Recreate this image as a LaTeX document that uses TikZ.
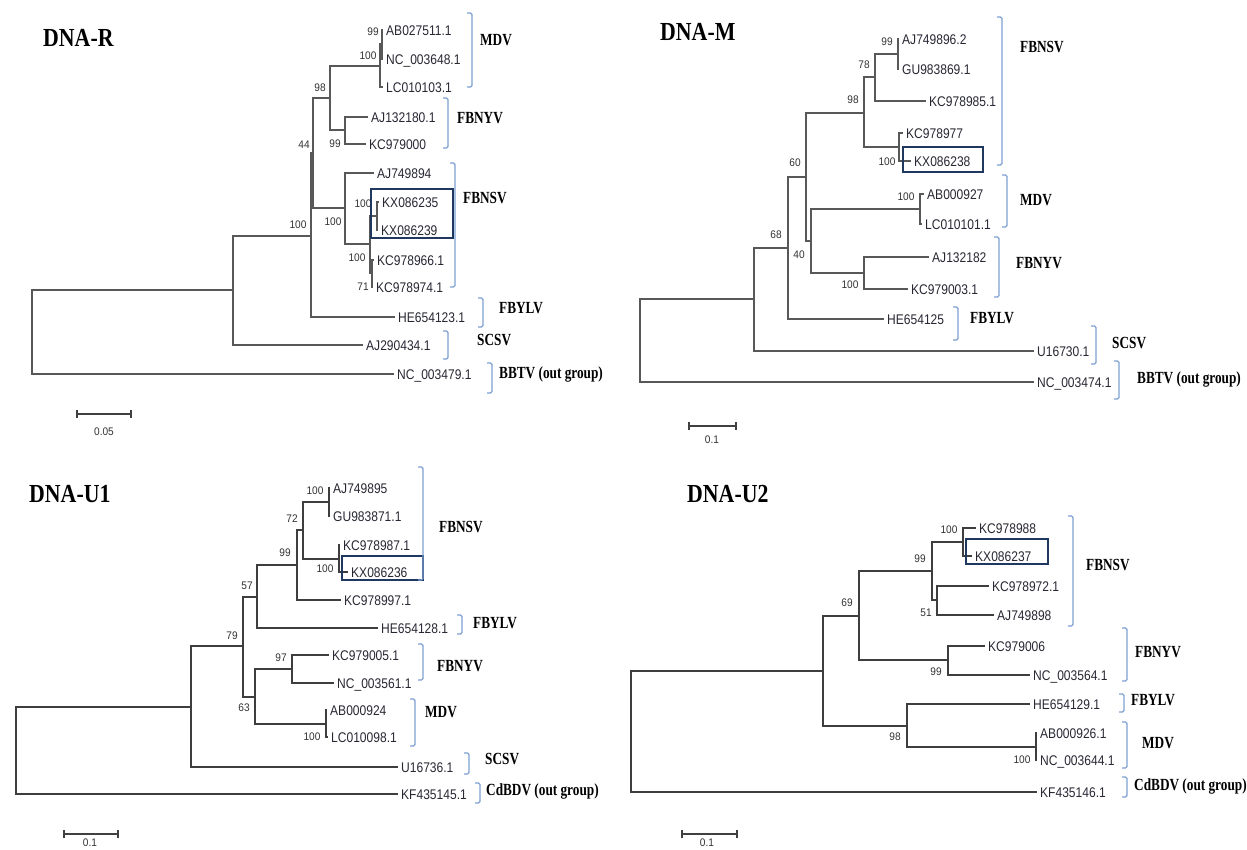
\documentclass[tikz,border=0pt]{standalone}
\usepackage{fontspec}
\newfontfamily\leaffont[FakeStretch=0.86]{Liberation Sans}
\newfontfamily\bootfont[FakeStretch=0.92]{Liberation Sans}
\newfontfamily\grpfont[FakeStretch=0.78]{Liberation Serif}
\newfontfamily\ttlfont[FakeStretch=0.84]{Liberation Serif}
\definecolor{treec}{RGB}{88,88,88}
\definecolor{treed}{RGB}{62,62,62}
\definecolor{leafc}{RGB}{40,40,52}
\definecolor{bootc}{RGB}{50,50,50}
\definecolor{brkc}{RGB}{125,160,210}
\definecolor{boxc}{RGB}{31,56,96}
\newcommand{\tleaf}[4]{\node[leaf] (#1) at (#2,#3) {#4};}
\newcommand{\tnode}[3]{\coordinate (#1) at (#2,#3);}
\newcommand{\tboot}[4]{\node[boot] (#1) at (#2,#3) {#4};}
\newcommand{\tbrk}[3]{\draw[brk] ({#1-5},#2) -- (#1,#2) -- (#1,#3) -- ({#1-5},#3);}
\newcommand{\tgrp}[4]{\node[grp] (#1) at (#2,#3) {#4};}
\newcommand{\tsbar}[3]{\draw[sbar] (#1,#3) -- (#2,#3); \draw[sbar] (#1,{#3-4}) -- (#1,{#3+4}); \draw[sbar] (#2,{#3-4}) -- (#2,{#3+4});}
\tikzset{
  tree/.style={draw=treec, line width=1.5pt},
  treeu/.style={draw=treed, line width=1.2pt},
  leaf/.style={anchor=west, inner xsep=3pt, inner ysep=0pt, text height=10pt, text depth=0pt, text=leafc, font=\leaffont\fontsize{14}{16}\selectfont},
  boot/.style={inner sep=0pt, text=bootc, font=\bootfont\fontsize{11}{13}\selectfont},
  grp/.style={anchor=west, inner sep=0pt, text height=11pt, text depth=0pt, font=\grpfont\bfseries\fontsize{17}{19}\selectfont},
  ttl/.style={anchor=west, inner sep=0pt, text height=17pt, text depth=0pt, font=\ttlfont\bfseries\fontsize{26}{28}\selectfont},
  brk/.style={draw=brkc, line width=1.3pt, rounded corners=1.5pt},
  hbox/.style={draw=boxc, line width=2.2pt},
  sbar/.style={draw=black!75, line width=1.1pt},
  sbl/.style={inner sep=0pt, text=bootc, font=\bootfont\fontsize{11}{13}\selectfont}
}
\begin{document}
\begin{tikzpicture}[x=1pt,y=-1pt]
\useasboundingbox (0,0) rectangle (1247,849);
\fill[white] (0,0) rectangle (1247,849);

% ================= DNA-R =================
\node[ttl] (tR) at (43,38) {DNA-R};
\tleaf{rL1}{383}{30}{AB027511.1}
\tleaf{rL2}{383}{59}{NC\_003648.1}
\tleaf{rL3}{383}{87}{LC010103.1}
\tleaf{rL4}{368}{117}{AJ132180.1}
\tleaf{rL5}{366}{144}{KC979000}
\tleaf{rL6}{374}{173}{AJ749894}
\tleaf{rL7}{379}{202}{KX086235}
\tleaf{rL8}{378}{230}{KX086239}
\tleaf{rL9}{374}{260}{KC978966.1}
\tleaf{rL10}{373}{287}{KC978974.1}
\tleaf{rL11}{395}{317}{HE654123.1}
\tleaf{rL12}{363}{345}{AJ290434.1}
\tleaf{rL13}{394}{374}{NC\_003479.1}
\tnode{R0}{32}{332}
\tnode{RA}{233}{290}
\tnode{RB}{311}{236}
\tnode{RC}{313}{153}
\tnode{RD}{330}{98}
\tnode{RM1}{380}{66}
\tnode{RM2}{382}{44}
\tnode{RY}{345}{130}
\tnode{RE}{345}{208}
\tnode{RF}{370}{244}
\tnode{RG}{377}{216}
\tnode{RH}{372}{273}
\foreach \p/\c in {R0/RA, R0/rL13.west, RA/RB, RA/rL12.west, RB/RC, RB/rL11.west,
  RC/RD, RC/RE, RD/RM1, RD/RY, RM1/RM2, RM1/rL3.west, RM2/rL1.west, RM2/rL2.west,
  RY/rL4.west, RY/rL5.west, RE/rL6.west, RE/RF, RF/RG, RF/RH, RG/rL7.west, RG/rL8.west,
  RH/rL9.west, RH/rL10.west}
  {\draw[tree] (\p) |- (\c);}
\tboot{bR1}{298}{225}{100}
\tboot{bR2}{304}{145}{44}
\tboot{bR3}{320}{88}{98}
\tboot{bR4}{373}{32}{99}
\tboot{bR5}{368}{56}{100}
\tboot{bR6}{335}{144}{99}
\tboot{bR7}{333}{222}{100}
\tboot{bR8}{363}{204}{100}
\tboot{bR9}{357}{258}{100}
\tboot{bR10}{363}{287}{71}
\draw[hbox] (371,189) rectangle (453,238);
\tbrk{472}{13}{87}
\tbrk{448}{98}{148}
\tbrk{455}{163}{287}
\tbrk{483}{298}{327}
\tbrk{448}{331}{359}
\tbrk{492}{363}{393}
\tgrp{gR1}{480}{40}{MDV}
\tgrp{gR2}{457}{118}{FBNYV}
\tgrp{gR3}{463}{198}{FBNSV}
\tgrp{gR4}{499}{308}{FBYLV}
\tgrp{gR5}{477}{340}{SCSV}
\tgrp{gR6}{499}{373}{BBTV (out group)}
\tsbar{77}{131}{414}
\node[sbl] (sR) at (104,432) {0.05};

% ================= DNA-M =================
\node[ttl] (tM) at (660,32) {DNA-M};
\tleaf{mL1}{899}{39}{AJ749896.2}
\tleaf{mL2}{899}{69}{GU983869.1}
\tleaf{mL3}{926}{101}{KC978985.1}
\tleaf{mL4}{903}{133}{KC978977}
\tleaf{mL5}{911}{161}{KX086238}
\tleaf{mL6}{924}{194}{AB000927}
\tleaf{mL7}{922}{224}{LC010101.1}
\tleaf{mL8}{929}{257}{AJ132182}
\tleaf{mL9}{908}{289}{KC979003.1}
\tleaf{mL10}{884}{319}{HE654125}
\tleaf{mL11}{1034}{351}{U16730.1}
\tleaf{mL12}{1034}{382}{NC\_003474.1}
\tnode{M0}{640}{340}
\tnode{M9}{754}{299}
\tnode{M8}{788}{248}
\tnode{M5}{806}{177}
\tnode{M3}{864}{113}
\tnode{M2}{875}{77}
\tnode{M1}{898}{54}
\tnode{M4}{899}{147}
\tnode{M7}{811}{241}
\tnode{MM}{920}{209}
\tnode{MY}{864}{273}
\foreach \p/\c in {M0/M9, M0/mL12.west, M9/M8, M9/mL11.west, M8/M5, M8/mL10.west,
  M5/M3, M5/M7, M3/M2, M3/M4, M2/M1, M2/mL3.west, M1/mL1.west, M1/mL2.west,
  M4/mL4.west, M4/mL5.west, M7/MM, M7/MY, MM/mL6.west, MM/mL7.west, MY/mL8.west, MY/mL9.west}
  {\draw[tree] (\p) |- (\c);}
\tboot{bM1}{887}{42}{99}
\tboot{bM2}{864}{65}{78}
\tboot{bM3}{853}{100}{98}
\tboot{bM4}{887}{162}{100}
\tboot{bM5}{795}{163}{60}
\tboot{bM6}{906}{197}{100}
\tboot{bM7}{799}{255}{40}
\tboot{bM8}{776}{235}{68}
\tboot{bM9}{850}{285}{100}
\draw[hbox] (903,147) rectangle (983,172);
\tbrk{1002}{17}{165}
\tbrk{1007}{175}{227}
\tbrk{999}{237}{297}
\tbrk{958}{307}{340}
\tbrk{1096}{326}{364}
\tbrk{1119}{361}{399}
\tgrp{gM1}{1020}{47}{FBNSV}
\tgrp{gM2}{1020}{200}{MDV}
\tgrp{gM3}{1016}{263}{FBNYV}
\tgrp{gM4}{970}{318}{FBYLV}
\tgrp{gM5}{1112}{343}{SCSV}
\tgrp{gM6}{1137}{378}{BBTV (out group)}
\tsbar{689}{736}{426}
\node[sbl] (sM) at (712,440) {0.1};

% ================= DNA-U1 =================
\node[ttl] (tU1) at (29,494) {DNA-U1};
\tleaf{uL1}{330}{488}{AJ749895}
\tleaf{uL2}{330}{516}{GU983871.1}
\tleaf{uL3}{340}{545}{KC978987.1}
\tleaf{uL4}{348}{572}{KX086236}
\tleaf{uL5}{341}{600}{KC978997.1}
\tleaf{uL6}{378}{628}{HE654128.1}
\tleaf{uL7}{329}{655}{KC979005.1}
\tleaf{uL8}{334}{683}{NC\_003561.1}
\tleaf{uL9}{327}{710}{AB000924}
\tleaf{uL10}{328}{737}{LC010098.1}
\tleaf{uL11}{398}{767}{U16736.1}
\tleaf{uL12}{398}{794}{KF435145.1}
\tnode{U0}{16}{750}
\tnode{Ua}{191}{707}
\tnode{Ub}{243}{646}
\tnode{Uc}{257}{597}
\tnode{Ud}{297}{565}
\tnode{Ue}{303}{530}
\tnode{Uf}{329}{502}
\tnode{Ug}{339}{559}
\tnode{Uh}{255}{697}
\tnode{UY}{292}{669}
\tnode{UM}{326}{724}
\foreach \p/\c in {U0/Ua, U0/uL12.west, Ua/Ub, Ua/uL11.west, Ub/Uc, Ub/Uh, Uc/Ud, Uc/uL6.west,
  Ud/Ue, Ud/uL5.west, Ue/Uf, Ue/Ug, Uf/uL1.west, Uf/uL2.west, Ug/uL3.west, Ug/uL4.west,
  Uh/UY, Uh/UM, UY/uL7.west, UY/uL8.west, UM/uL9.west, UM/uL10.west}
  {\draw[treeu] (\p) |- (\c);}
\tboot{bU1}{315}{491}{100}
\tboot{bU2}{292}{519}{72}
\tboot{bU3}{285}{553}{99}
\tboot{bU4}{325}{569}{100}
\tboot{bU5}{247}{586}{57}
\tboot{bU6}{232}{636}{79}
\tboot{bU7}{244}{708}{63}
\tboot{bU8}{281}{658}{97}
\tboot{bU9}{312}{737}{100}
\draw[hbox] (342,556) rectangle (423,580);
\tbrk{423}{467}{580}
\tbrk{462}{615}{634}
\tbrk{423}{644}{680}
\tbrk{415}{699}{746}
\tbrk{469}{753}{774}
\tbrk{480}{783}{803}
\tgrp{gU1}{439}{527}{FBNSV}
\tgrp{gU2}{473}{623}{FBYLV}
\tgrp{gU3}{437}{666}{FBNYV}
\tgrp{gU4}{425}{712}{MDV}
\tgrp{gU5}{485}{759}{SCSV}
\tgrp{gU6}{486}{790}{CdBDV (out group)}
\tsbar{64}{118}{834}
\node[sbl] (sU1) at (90,843) {0.1};

% ================= DNA-U2 =================
\node[ttl] (tU2) at (687,494) {DNA-U2};
\tleaf{vL1}{976}{528}{KC978988}
\tleaf{vL2}{972}{556}{KX086237}
\tleaf{vL3}{989}{586}{KC978972.1}
\tleaf{vL4}{994}{615}{AJ749898}
\tleaf{vL5}{985}{646}{KC979006}
\tleaf{vL6}{1030}{675}{NC\_003564.1}
\tleaf{vL7}{1030}{704}{HE654129.1}
\tleaf{vL8}{1037}{733}{AB000926.1}
\tleaf{vL9}{1037}{760}{NC\_003644.1}
\tleaf{vL10}{1037}{792}{KF435146.1}
\tnode{V0}{631}{731}
\tnode{Va}{823}{671}
\tnode{Vb}{859}{616}
\tnode{Vd}{932}{571}
\tnode{Vk}{963}{542}
\tnode{V51}{937}{600}
\tnode{VY}{948}{660}
\tnode{Vc}{907}{726}
\tnode{VM}{1036}{747}
\foreach \p/\c in {V0/Va, V0/vL10.west, Va/Vb, Va/Vc, Vb/Vd, Vb/VY, Vd/Vk, Vd/V51,
  Vk/vL1.west, Vk/vL2.west, V51/vL3.west, V51/vL4.west, VY/vL5.west, VY/vL6.west,
  Vc/vL7.west, Vc/VM, VM/vL8.west, VM/vL9.west}
  {\draw[treeu] (\p) |- (\c);}
\tboot{bV1}{847}{603}{69}
\tboot{bV2}{920}{559}{99}
\tboot{bV3}{949}{530}{100}
\tboot{bV4}{926}{613}{51}
\tboot{bV5}{936}{672}{99}
\tboot{bV6}{895}{737}{98}
\tboot{bV7}{1022}{760}{100}
\draw[hbox] (966,539) rectangle (1048,564);
\tbrk{1073}{516}{626}
\tbrk{1127}{628}{681}
\tbrk{1124}{694}{712}
\tbrk{1127}{722}{768}
\tbrk{1127}{777}{797}
\tgrp{gV1}{1086}{565}{FBNSV}
\tgrp{gV2}{1135}{652}{FBNYV}
\tgrp{gV3}{1131}{700}{FBYLV}
\tgrp{gV4}{1142}{743}{MDV}
\tgrp{gV5}{1134}{785}{CdBDV (out group)}
\tsbar{682}{737}{834}
\node[sbl] (sU2) at (707,843) {0.1};
\end{tikzpicture}
\end{document}
